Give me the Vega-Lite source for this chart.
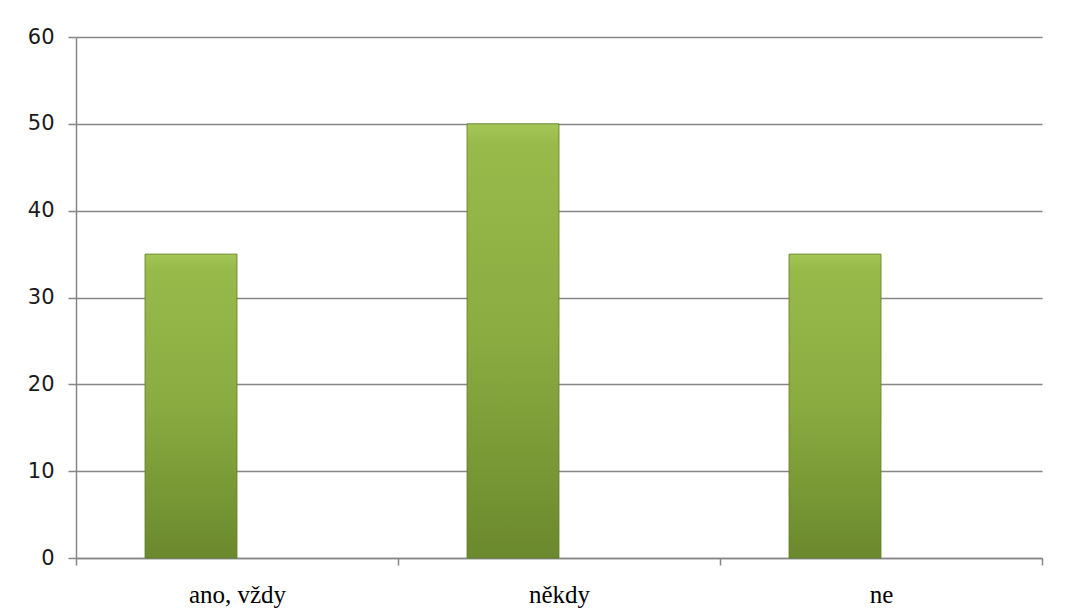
{
  "$schema": "https://vega.github.io/schema/vega-lite/v6.json",
  "width": 966,
  "height": 521,
  "autosize": "none",
  "padding": {"left": 76, "top": 37, "right": 23, "bottom": 58},
  "background": "white",
  "config": {
    "view": {"stroke": null},
    "axis": {"domainColor": "#868686", "tickColor": "#868686", "gridColor": "#868686", "domainWidth": 1.5, "tickWidth": 1.5, "gridWidth": 1.4}
  },
  "data": {
    "values": [
      {"kategorie": "ano, vždy", "serie": "A", "hodnota": 35},
      {"kategorie": "někdy", "serie": "A", "hodnota": 50},
      {"kategorie": "ne", "serie": "A", "hodnota": 35}
    ]
  },
  "mark": {
    "type": "bar",
    "color": {
      "gradient": "linear",
      "x1": 0, "y1": 0, "x2": 0, "y2": 1,
      "stops": [
        {"offset": 0, "color": "#a3c657"},
        {"offset": 0.05, "color": "#98ba4b"},
        {"offset": 0.5, "color": "#8aab40"},
        {"offset": 1, "color": "#6b892d"}
      ]
    },
    "stroke": "#5f7d25",
    "strokeWidth": 0.8
  },
  "encoding": {
    "x": {
      "field": "kategorie",
      "type": "nominal",
      "sort": ["ano, vždy", "někdy", "ne"],
      "scale": {"paddingInner": 0, "paddingOuter": 0},
      "axis": {
        "title": null,
        "labelAngle": 0,
        "tickBand": "extent",
        "tickSize": 7,
        "labelPadding": 17,
        "labelFont": "Liberation Serif",
        "labelFontSize": 25,
        "labelColor": "#000000",
        "domain": true,
        "grid": false
      }
    },
    "xOffset": {
      "field": "serie",
      "type": "nominal",
      "scale": {"domain": ["A", "B"], "paddingInner": 0, "paddingOuter": 0.75}
    },
    "y": {
      "field": "hodnota",
      "type": "quantitative",
      "scale": {"domain": [0, 60], "nice": false},
      "axis": {
        "title": null,
        "values": [0, 10, 20, 30, 40, 50, 60],
        "tickSize": 8,
        "labelPadding": 14,
        "labelFont": "DejaVu Sans",
        "labelFontSize": 21,
        "labelColor": "#1a1a1a",
        "grid": true
      }
    }
  }
}
